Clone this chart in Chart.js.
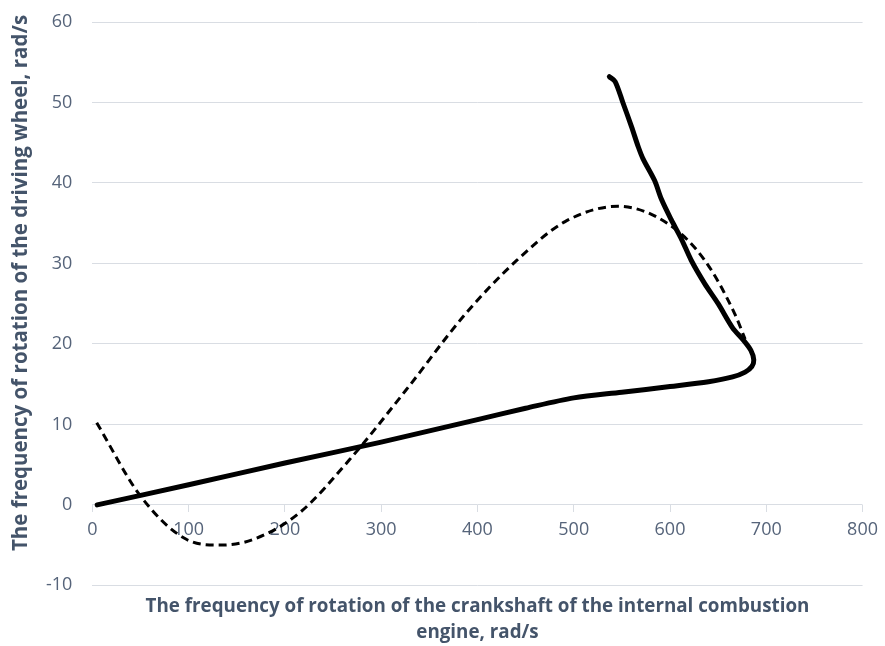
<!DOCTYPE html>
<html lang="en">
<head>
  <meta charset="UTF-8" />
  <title>Crankshaft vs driving wheel</title>
  <script src="https://cdn.jsdelivr.net/npm/chart.js"></script>
  <style>
    html, body { margin: 0; padding: 0; background: #fff; }
    #wrap { width: 885px; height: 646px; }
  </style>
</head>
<body>
  <div id="wrap"><canvas id="myChart" width="885" height="646"></canvas></div>

  <script>
    // solid line
    const solidX = [5, 100, 200, 300, 400, 450, 500, 550, 600, 640, 665, 678, 685, 687, 684, 676, 665, 650, 636, 622, 612, 601, 591, 584, 572, 567, 560, 551, 543, 537];
    const solidY = [0, 2.5, 5.2, 7.8, 10.6, 12, 13.3, 14.0, 14.7, 15.3, 15.9, 16.5, 17.2, 18.0, 19.2, 20.5, 22.0, 25.0, 27.5, 30.4, 33.0, 35.5, 38.0, 40.3, 43.0, 44.5, 47.0, 50.0, 52.6, 53.2];

    // dashed curve
    const dashX = [4.5, 50, 98, 132, 167, 215, 267, 326, 388, 441, 491, 546, 597, 636, 667, 678];
    const dashY = [10.2, 1.1, -4.3, -5.0, -4.3, -1.0, 5.6, 14.3, 23.8, 30.4, 35.2, 37.1, 35.0, 30.4, 23.8, 20.6];

    const xTicks = [0, 100, 200, 300, 400, 500, 600, 700, 800];
    const yTicks = [-10, 0, 10, 20, 30, 40, 50, 60];

    const xTitle = ['The frequency of rotation of the crankshaft of the internal combustion', 'engine, rad/s'];
    const yTitle = 'The frequency of rotation of the driving wheel, rad/s';

    const toPts = (xs, ys) => xs.map((x, i) => ({ x: x, y: ys[i] }));

    const gridColor = '#d9dde3';
    const tickColor = '#56647a';
    const titleColor = '#44546a';

    // y title sits a bit above the middle of the plot in the original, so draw it by hand
    const yTitlePlugin = {
      id: 'yTitle',
      afterDraw(chart) {
        const c = chart.ctx;
        c.save();
        c.translate(21, 283);
        c.rotate(-Math.PI / 2);
        c.font = 'bold 20.5px "Open Sans"';
        c.fillStyle = titleColor;
        c.textAlign = 'center';
        c.textBaseline = 'middle';
        c.fillText(yTitle, 0, 0);
        c.restore();
      }
    };

    const ctx = document.getElementById('myChart').getContext('2d');
    const myChart = new Chart(ctx, {
      type: 'scatter',
      data: {
        datasets: [
          {
            data: toPts(solidX, solidY),
            showLine: true,
            borderColor: '#000',
            borderWidth: 5,
            pointRadius: 0,
            tension: 0.3,
            borderCapStyle: 'round',
            borderJoinStyle: 'round'
          },
          {
            data: toPts(dashX, dashY),
            showLine: true,
            borderColor: '#000',
            borderWidth: 3,
            borderDash: [8, 5],
            pointRadius: 0,
            cubicInterpolationMode: 'monotone'
          }
        ]
      },
      plugins: [yTitlePlugin],
      options: {
        responsive: false,
        animation: false,
        layout: { padding: { top: 0, right: 20, bottom: 0, left: 26 } },
        plugins: {
          legend: { display: false },
          tooltip: { enabled: false }
        },
        scales: {
          x: {
            type: 'linear',
            position: { y: 0 },
            min: xTicks[0],
            max: xTicks[xTicks.length - 1],
            afterBuildTicks: (s) => { s.ticks = xTicks.map(v => ({ value: v })); },
            grid: { drawOnChartArea: false, drawTicks: true, tickLength: 7, color: gridColor },
            border: { display: false },
            ticks: { color: tickColor, padding: 7, font: { family: 'Open Sans', size: 18 } }
          },
          x2: {
            type: 'linear',
            position: 'bottom',
            min: xTicks[0],
            max: xTicks[xTicks.length - 1],
            grid: { display: false },
            border: { display: false },
            ticks: { display: false },
            title: {
              display: true,
              text: xTitle,
              color: titleColor,
              font: { family: 'Open Sans', size: 18.8, weight: 'bold', lineHeight: 1.4 },
              padding: { top: 0, bottom: 0 }
            }
          },
          y: {
            min: yTicks[0],
            max: yTicks[yTicks.length - 1],
            afterBuildTicks: (s) => { s.ticks = yTicks.map(v => ({ value: v })); },
            afterFit: (s) => { s.paddingTop = 22; },
            grid: { color: gridColor, drawTicks: false },
            border: { display: false },
            ticks: { color: tickColor, padding: 20, font: { family: 'Open Sans', size: 18 } },
            title: { display: false }
          }
        }
      }
    });
  </script>
</body>
</html>
